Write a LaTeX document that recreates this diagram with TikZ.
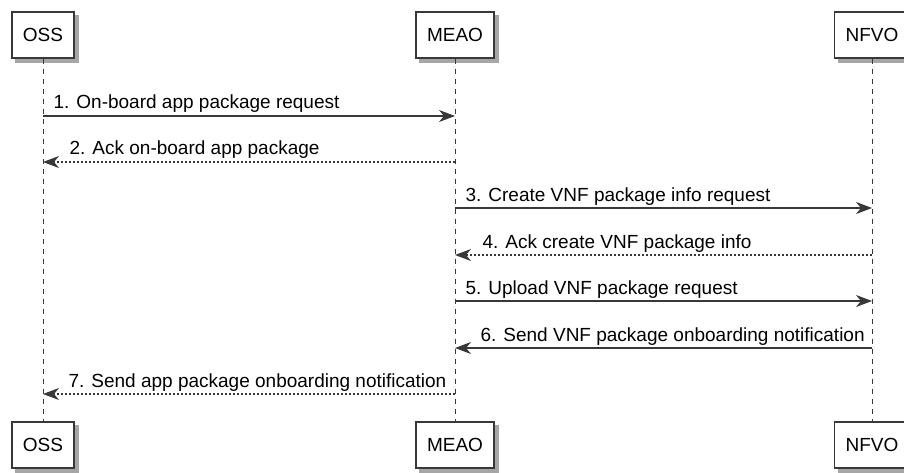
\documentclass[tikz,border=0pt]{standalone}
\usepackage{fontspec}
\setmainfont{Liberation Sans}
\usetikzlibrary{arrows.meta,backgrounds}
\definecolor{linegray}{HTML}{383838}
\begin{document}
\begin{tikzpicture}[x=1pt, y=-1pt,
			party/.style={draw=linegray, line width=1.4pt, fill=white, minimum height=46pt, inner xsep=11pt, font=\fontsize{19}{22}\selectfont},
			shade/.style={fill=black!35},
			life/.style={draw=linegray, line width=0.9pt, dash pattern=on 5pt off 5pt},
			msg/.style={draw=linegray, line width=1.1pt, -{Stealth[length=16pt, width=12pt, inset=5pt]}},
			reply/.style={msg, dash pattern=on 2pt off 2pt},
			lbl/.style={font=\fontsize{19}{22}\selectfont, inner sep=0pt, anchor=base west}]
			\useasboundingbox (0,0) rectangle (904,473);
			% participants, top and bottom
			\node[party] (ossT) at (43, 35) {OSS};
			\node[party] (meaoT) at (455, 35) {MEAO};
			\node[party] (nfvoT) at (872, 35) {NFVO};
			\node[party] (ossB) at (43, 445) {OSS};
			\node[party] (meaoB) at (455, 445) {MEAO};
			\node[party] (nfvoB) at (872, 445) {NFVO};
			\begin{scope}[on background layer]
				\foreach \p in {ossT, meaoT, nfvoT, ossB, meaoB, nfvoB}
					\fill[shade] ([shift={(4pt,-4pt)}]\p.south west) rectangle ([shift={(4pt,-4pt)}]\p.north east);
				\draw[life] (ossT) -- (ossB);
				\draw[life] (meaoT) -- (meaoB);
				\draw[life] (nfvoT) -- (nfvoB);
			\end{scope}
			% message levels
			\foreach \i/\y in {1/116, 2/162, 3/208, 4/255, 5/301, 6/348, 7/394} {
				\coordinate (o\i) at (43, \y);
				\coordinate (m\i) at (455, \y);
				\coordinate (n\i) at (872, \y);
			}
			\draw[msg] (o1) -- (m1) node[lbl, pos=0, xshift=10pt, yshift=7pt] {1. On-board app package request};
			\draw[reply] (m2) -- (o2) node[lbl, pos=1, xshift=26pt, yshift=7pt] {2. Ack on-board app package};
			\draw[msg] (m3) -- (n3) node[lbl, pos=0, xshift=10pt, yshift=7pt] {3. Create VNF package info request};
			\draw[reply] (n4) -- (m4) node[lbl, pos=1, xshift=27pt, yshift=7pt] {4. Ack create VNF package info};
			\draw[msg] (m5) -- (n5) node[lbl, pos=0, xshift=10pt, yshift=7pt] {5. Upload VNF package request};
			\draw[msg] (n6) -- (m6) node[lbl, pos=1, xshift=25pt, yshift=7pt] {6. Send VNF package onboarding notification};
			\draw[reply] (m7) -- (o7) node[lbl, pos=1, xshift=25pt, yshift=7pt] {7. Send app package onboarding notification};
		\end{tikzpicture}
\end{document}
